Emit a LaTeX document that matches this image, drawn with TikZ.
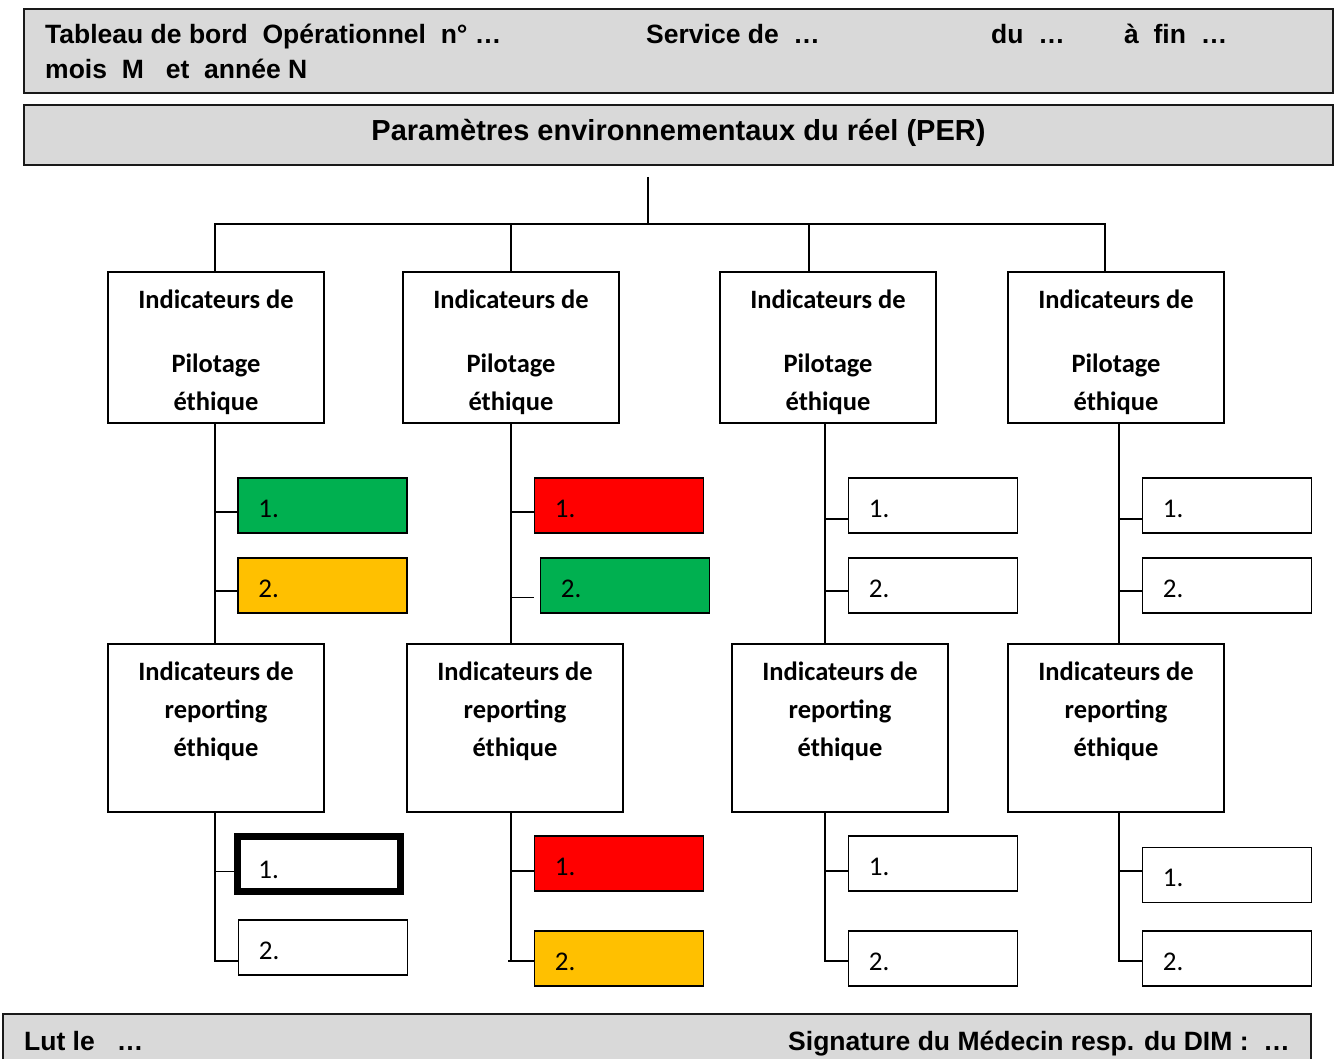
\documentclass[tikz,border=0pt]{standalone}
\usepackage{fontspec}
\setmainfont{Carlito}
\newfontfamily\arialfont{Liberation Sans}
\definecolor{panelgray}{HTML}{D9D9D9}
\definecolor{okgreen}{HTML}{00B050}
\definecolor{alertred}{HTML}{FF0000}
\definecolor{warnamber}{HTML}{FFC000}
\begin{document}
\begin{tikzpicture}[x=1pt,y=-1pt,
  panel/.style={draw=black!90, line width=2pt, fill=panelgray, inner sep=0pt},
  hdr/.style={font=\arialfont\bfseries\fontsize{26.5}{31}\selectfont, inner sep=0pt},
  hdrbig/.style={font=\arialfont\bfseries\fontsize{29}{34}\selectfont, inner sep=0pt},
  bigbox/.style={draw, line width=1.6pt, minimum width=216pt, inner sep=0pt},
  boxtext/.style={font=\bfseries\fontsize{26.5}{31}\selectfont, inner sep=0pt, anchor=base},
  ind/.style={draw, line width=1.6pt, minimum width=169pt, minimum height=55pt, inner sep=0pt},
  strong/.style={draw, line width=6.5pt, minimum width=163pt, minimum height=55pt, inner sep=0pt},
  numtext/.style={font=\fontsize{27}{31}\selectfont, inner sep=0pt, anchor=base west},
  link/.style={line width=1.6pt}
]
\useasboundingbox (0,0) rectangle (1339,1059);

% ---- header panels ----
\node[panel, minimum width=1309pt, minimum height=84pt] (head) at (678.5,51) {};
\node[hdr, anchor=base west] (head-t1) at (45,44) {Tableau de bord\ \ Opérationnel\ \ n°\ …};
\node[hdr, anchor=base west] (head-t2) at (646,44) {Service de\ \ …};
\node[hdr, anchor=base west] (head-t3) at (991,44) {du\ \ …};
\node[hdr, anchor=base west] (head-t4) at (1124,44) {à\ \ fin\ \ …};
\node[hdr, anchor=base west] (head-t5) at (45,79) {mois\ \ M\ \ \ et\ \ année N};

\node[panel, minimum width=1309pt, minimum height=60pt] (per) at (678.5,135) {};
\node[hdrbig, anchor=base] (per-t) at (678.5,141) {Paramètres environnementaux du réel (PER)};

% ---- footer panel ----
\node[panel, minimum width=1308pt, minimum height=66pt] (foot) at (657,1047) {};
\node[hdr, anchor=base west] (foot-t1) at (24,1050) {Lut le\ \ \ …};
\node[hdr, anchor=base east] (foot-t2) at (1290,1050) {Signature du Médecin resp. du DIM :\ \ …};

% ---- steering indicator boxes ----
\foreach \c/\x in {1/216,2/511,3/828,4/1116} {
  \node[bigbox, minimum height=151pt] (pil\c) at (\x,347.5) {};
  \node[boxtext] (pil\c-l1) at (\x,309) {Indicateurs de};
  \node[boxtext] (pil\c-l2) at (\x,373) {Pilotage};
  \node[boxtext] (pil\c-l3) at (\x,410) {éthique};
}

% ---- reporting indicator boxes ----
\foreach \c/\x in {1/216,2/515,3/840,4/1116} {
  \node[bigbox, minimum height=168pt] (rep\c) at (\x,728) {};
  \node[boxtext] (rep\c-l1) at (\x,680) {Indicateurs de};
  \node[boxtext] (rep\c-l2) at (\x,718) {reporting};
  \node[boxtext] (rep\c-l3) at (\x,756) {éthique};
}

% ---- steering items ----
\node[ind, fill=okgreen]   (a11) at (322.5,505.5) {};
\node[ind, fill=warnamber] (a12) at (322.5,585.5) {};
\node[ind, fill=alertred]  (a21) at (619,505.5) {};
\node[ind, fill=okgreen]   (a22) at (625,585.5) {};
\node[ind] (a31) at (933,505.5) {};
\node[ind] (a32) at (933,585.5) {};
\node[ind] (a41) at (1227,505.5) {};
\node[ind] (a42) at (1227,585.5) {};

% ---- reporting items ----
\node[strong] (b11) at (319,864) {};
\node[ind] (b12) at (323,947.5) {};
\node[ind, fill=alertred]  (b21) at (619,863.5) {};
\node[ind, fill=warnamber] (b22) at (619,958.5) {};
\node[ind] (b31) at (933,863.5) {};
\node[ind] (b32) at (933,958.5) {};
\node[ind] (b41) at (1227,875) {};
\node[ind] (b42) at (1227,958.5) {};

% item numbers
\foreach \n/\k in {a11/1,a12/2,a21/1,a22/2,a31/1,a32/2,a41/1,a42/2,
                   b12/2,b21/1,b22/2,b31/1,b32/2,b41/1,b42/2} {
  \node[numtext] (\n-t) at ([xshift=21pt,yshift=-11.5pt]\n.west) {\k.};
}
\node[numtext] (b11-t) at ([xshift=24pt,yshift=-14pt]b11.west) {1.};

% ---- tree from the PER panel ----
\coordinate (stem) at (648,177);
\coordinate (bus) at (648,224);
\draw[link] (stem) -- (bus);
\draw[link] (bus) -| ([xshift=-1pt]pil1.north);
\draw[link] (bus) -| (pil2.north);
\draw[link] (bus) -| ([xshift=-19pt]pil3.north);
\draw[link] (bus) -| ([xshift=-11pt]pil4.north);

% spines
\coordinate (sp1) at ([xshift=-1pt]pil1.south);
\coordinate (sp2) at (pil2.south);
\coordinate (sp3) at ([xshift=-3pt]pil3.south);
\coordinate (sp4) at ([xshift=3pt]pil4.south);
\foreach \c in {1,2,3,4} {
  \draw[link] (sp\c) -- (sp\c |- rep\c.north);
}

% steering ticks
\path ([yshift=-6.5pt]a11.west) coordinate (t11)
      ([yshift=-5.5pt]a12.west) coordinate (t12)
      ([yshift=-6.5pt]a21.west) coordinate (t21)
      ([xshift=-6pt,yshift=-12pt]a22.west) coordinate (t22)
      ([yshift=-13.5pt]a31.west) coordinate (t31)
      ([yshift=-5.5pt]a32.west) coordinate (t32)
      ([yshift=-13.5pt]a41.west) coordinate (t41)
      ([yshift=-5.5pt]a42.west) coordinate (t42);
\foreach \c in {1,2,3,4} {
  \draw[link] (t\c1 -| sp\c) -- (t\c1);
  \draw[link] (t\c2 -| sp\c) -- (t\c2);
}

% reporting ticks
\path ([yshift=-7.5pt]b11.west) coordinate (u11)
      ([yshift=-13.5pt]b12.west) coordinate (u12)
      ([yshift=-7.5pt]b21.west) coordinate (u21)
      ([yshift=-2.5pt]b22.west) coordinate (u22)
      ([yshift=-7.5pt]b31.west) coordinate (u31)
      ([yshift=-2.5pt]b32.west) coordinate (u32)
      ([yshift=4pt]b41.west) coordinate (u41)
      ([yshift=-2.5pt]b42.west) coordinate (u42);
\foreach \c in {1,3,4} {
  \draw[link] (rep\c.south -| sp\c) |- (u\c2);
  \draw[link] (u\c1 -| sp\c) -- (u\c1);
}
\draw[link] (rep2.south -| sp2) -- (u22 -| sp2);
\draw[link] (u21 -| sp2) -- (u21);
\path (u22 -| sp2) coordinate (k22);
\draw[link] ([xshift=-3pt]k22) -- (u22);
\end{tikzpicture}
\end{document}
